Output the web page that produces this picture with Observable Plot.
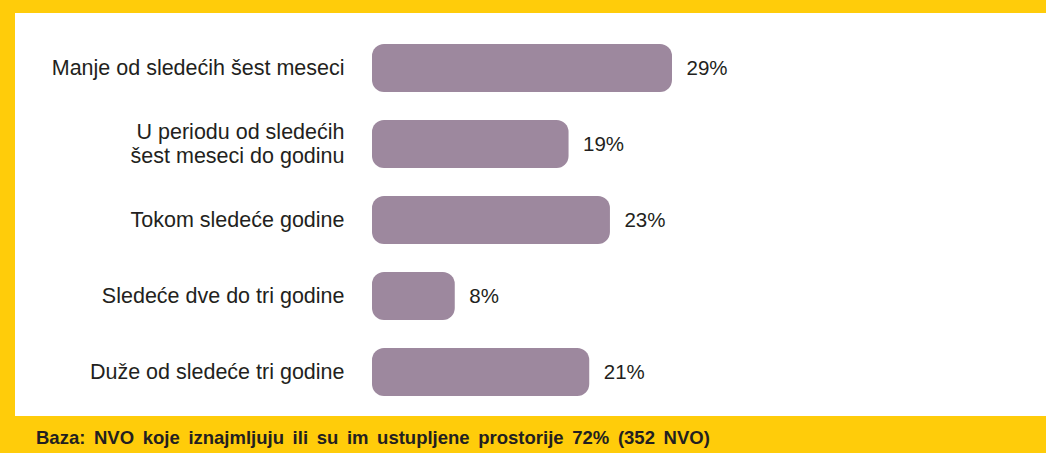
<!DOCTYPE html>
<html>
<head>
<meta charset="utf-8">
<script src="https://cdn.jsdelivr.net/npm/d3@7"></script>
<script src="https://cdn.jsdelivr.net/npm/@observablehq/plot@0.6"></script>
<style>
  html, body { margin: 0; padding: 0; background: #ffcc0a; }
  #frame { width: 1046px; height: 453px; background: #ffcc0a; position: relative; overflow: hidden; }
  #chart { position: absolute; left: 15px; top: 13px; width: 1031px; background: #fff; }
  #chart svg { display: block; background: #fff; }
  #caption { position: absolute; left: 36px; top: 427px; font-family: "Liberation Sans", Arial, sans-serif; font-weight: bold; font-size: 18.5px; color: #231f20; word-spacing: 3.5px; white-space: nowrap; }
</style>
</head>
<body>
<div id="frame">
  <div id="chart"></div>
  <div id="caption"></div>
</div>
<script>
const categories = [
  "Manje od sledećih šest meseci",
  "U periodu od sledećih\nšest meseci do godinu",
  "Tokom sledeće godine",
  "Sledeće dve do tri godine",
  "Duže od sledeće tri godine"
];
const values = [29, 19, 23, 8, 21];
const valueLabels = ["29%", "19%", "23%", "8%", "21%"];
const captionText = "Baza: NVO koje iznajmljuju ili su im ustupljene prostorije 72% (352 NVO)";

const data = categories.map((c, i) => ({ category: c, value: values[i], label: valueLabels[i] }));

const plot = Plot.plot({
  width: 1031,
  height: 403,
  marginLeft: 357,
  marginRight: 374,
  marginTop: 17,
  marginBottom: 6,
  style: { fontFamily: "'Liberation Sans', Arial, sans-serif", background: "#fff" },
  x: { domain: [0, 29], axis: null },
  y: { domain: categories, axis: null, padding: 0 },
  marks: [
    Plot.barX(data, { x: "value", y: "category", fill: "#9d889e", rx: 12, insetTop: 14, insetBottom: 14 }),
    Plot.text(data, { x: 0, y: "category", text: "category", textAnchor: "end", dx: -28, dy: -1, fontSize: 21.5, fill: "#231f20", lineHeight: 1.12 }),
    Plot.text(data, { x: "value", y: "category", text: "label", textAnchor: "start", dx: 14, fontSize: 20.5, fill: "#231f20" })
  ]
});
document.getElementById("chart").appendChild(plot);
document.getElementById("caption").textContent = captionText;
</script>
</body>
</html>
